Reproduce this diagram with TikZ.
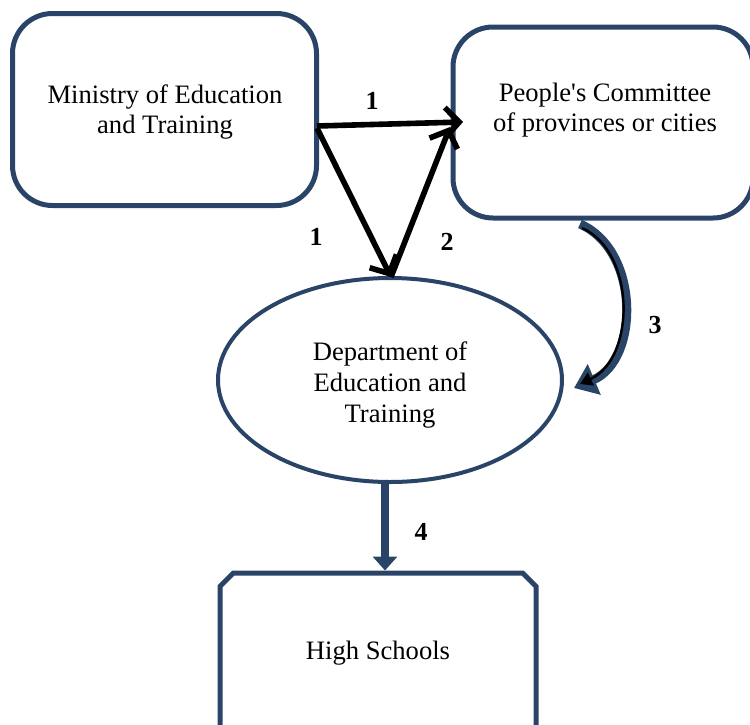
\documentclass[tikz,border=0pt]{standalone}
\usepackage{fontspec}
\setmainfont{Liberation Serif}
\usetikzlibrary{positioning,
				arrows.meta,
				shapes.geometric,
				shapes.misc,
				calc}
\definecolor{boxblue}{HTML}{2A4468}
\tikzset{
  roundbox/.style={draw=boxblue,line width=2.5pt,rounded corners=20pt,
                   minimum width=152pt,minimum height=96pt,inner sep=0pt},
  txt/.style={align=center,font=\fontsize{13.3}{15.4}\selectfont},
  num/.style={font=\fontsize{13}{15}\selectfont\bfseries},
  blackarrow/.style={line width=2.8pt,-{Straight Barb[length=7pt,width=15pt,line width=2.8pt]}},
}

\begin{document}
\begin{tikzpicture}[x=0.5pt,y=-0.5pt]
  \useasboundingbox (0,0) rectangle (750,724);
  \clip (0,0) rectangle (750,724);
  % boxes
  \node[roundbox] (ministry) at (164.5,109.5) {};
  \node[roundbox,minimum width=150pt,minimum height=95.5pt] (committee) at (603,122.5) {};
  \node[draw=boxblue,line width=2pt,ellipse,minimum width=172pt,minimum height=102pt] (dept) at (390,380) {};
  \node[draw=boxblue,line width=2.5pt,chamfered rectangle,chamfered rectangle xsep=12.5pt,
        chamfered rectangle sep=13pt,minimum width=158pt,minimum height=120pt] (schools) at (378,693) {};
  % texts
  \node[txt] (ministrytext) at (165,112) {Ministry of Education\\and Training};
  \node[txt] (committeetext) at (605,110) {People\textquotesingle s Committee\\of provinces or cities};
  \node[txt] (depttext) at (390,385) {Department of\\Education and\\Training};
  \node[txt] (schoolstext) at (378,653) {High Schools};
  % anchors
  \coordinate (m1) at (317,126);
  \coordinate (m2) at (317,128);
  \coordinate (c1) at (463,122);
  \coordinate (c2) at (450,127);
  \coordinate (d1) at (391,277);
  \coordinate (c3) at (580,224);
  \coordinate (d3) at (574,388);
  \coordinate (d4) at (385,482);
  % arrows
  \draw[blackarrow] (m1) -- (c1);
  \draw[blackarrow] (m2) -- (d1);
  \draw[blackarrow] (d1) -- (c2);
  \draw[boxblue,line width=4.5pt,-{Triangle[length=11pt,width=16pt]}]
    (c3) .. controls (640,250) and (640,360) .. (d3);
  \draw[black,line width=1.2pt,-{Triangle[length=6pt,width=7pt]}]
    ($(c3)+(2,4)$) .. controls (636,252) and (636,358) .. ($(d3)+(6,-4)$);
  \draw[boxblue,line width=4pt,-{Triangle[length=7pt,width=12pt]}] (d4) -- (d4 |- schools.north);
  % numbers
  \node[num] (n1a) at (372,101) {1};
  \node[num] (n1b) at (316,237) {1};
  \node[num] (n2) at (447,242) {2};
  \node[num] (n3) at (655,325) {3};
  \node[num] (n4) at (421,532) {4};
\end{tikzpicture}
\end{document}
